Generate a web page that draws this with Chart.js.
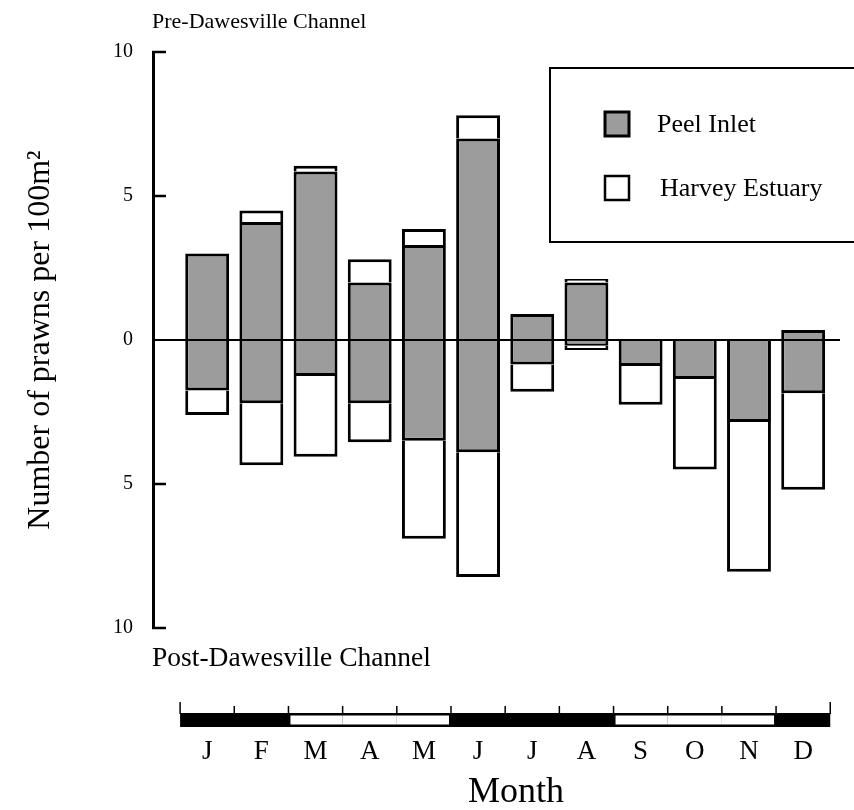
<!DOCTYPE html>
<html><head><meta charset="utf-8">
<script src="https://cdn.jsdelivr.net/npm/chart.js@4.4.1/dist/chart.umd.min.js"></script>
<style>html,body{margin:0;padding:0;background:#fff;} #wrap{width:854px;height:810px;position:relative;}</style>
</head><body><div id="wrap"><canvas id="c" width="854" height="810"></canvas></div>
<script>
// ---- data ----
const months = ['J','F','M','A','M','J','J','A','S','O','N','D'];
const seriesNames = ['Peel Inlet', 'Harvey Estuary'];
const peelPre    = [3.0, 4.1, 5.85, 2.0, 3.3, 7.0, 0.9, 2.0, 0, 0, 0, 0.35];
const harveyPre  = [0, 0.4, 0.2, 0.8, 0.55, 0.8, 0, 0.12, 0, 0, 0, 0];
const peelPost   = [1.75, 2.2, 1.25, 2.2, 3.5, 3.9, 0.85, 0.2, 0.9, 1.35, 2.85, 1.85];
const harveyPost = [0.85, 2.15, 2.8, 1.35, 3.4, 4.33, 0.95, 0.15, 1.35, 3.15, 5.2, 3.35];
const yTicks = [-10, -5, 0, 5, 10];
const seasonDark = [1,1,0,0,0,1,1,1,0,0,0,1];
const preLabel = 'Pre-Dawesville Channel';
const postLabel = 'Post-Dawesville Channel';
const yTitle = 'Number of prawns per 100m\u00B2';
const xTitle = 'Month';

const SERIF = '"Liberation Serif", "Times New Roman", Times, serif';
const GRAY = '#9c9c9c';

const pts = (arr, sign) => arr.map((v, i) => ({x: i, y: sign * v}));

const deco = {
  id: 'deco',
  afterDraw(chart) {
    const ctx = chart.ctx, xs = chart.scales.x, ys = chart.scales.y;
    ctx.save();
    // inward ticks on y axis
    ctx.strokeStyle = '#000'; ctx.lineWidth = 2.5;
    const ax = ys.right;
    yTicks.forEach(v => {
      if (v === 0) return;
      const py = ys.getPixelForValue(v);
      ctx.beginPath(); ctx.moveTo(ax - 1, py); ctx.lineTo(ax + 13, py); ctx.stroke();
    });
    // pre/post labels
    ctx.fillStyle = '#000'; ctx.textAlign = 'left'; ctx.textBaseline = 'alphabetic';
    ctx.font = '22px ' + SERIF; ctx.fillText(preLabel, 152, 28);
    ctx.font = '27.5px ' + SERIF; ctx.fillText(postLabel, 152, 666);
    // legend
    ctx.lineWidth = 2; ctx.strokeStyle = '#000';
    ctx.strokeRect(550, 68, 340, 174);
    ctx.fillStyle = GRAY; ctx.fillRect(605, 112, 24, 24);
    ctx.lineWidth = 3; ctx.strokeRect(605, 112, 24, 24);
    ctx.fillStyle = '#fff'; ctx.fillRect(605, 176, 24, 24);
    ctx.lineWidth = 2.5; ctx.strokeRect(605, 176, 24, 24);
    ctx.fillStyle = '#000'; ctx.font = '26px ' + SERIF; ctx.textBaseline = 'middle';
    ctx.fillText(seriesNames[0], 657, 125);
    ctx.fillText(seriesNames[1], 660, 189);
    // season bar
    const top = 713, h = 14;
    const x0 = xs.getPixelForValue(-0.5), x1 = xs.getPixelForValue(months.length - 0.5);
    ctx.fillStyle = '#000';
    ctx.fillRect(x0, top, x1 - x0, h);
    seasonDark.forEach((d, i) => {
      if (d) return;
      const a = xs.getPixelForValue(i - 0.5), b = xs.getPixelForValue(i + 0.5);
      const l = a + (seasonDark[i - 1] ? 2 : 0);
      const r = b - (seasonDark[i + 1] ? 2 : 0);
      ctx.fillStyle = '#fff';
      ctx.fillRect(l, top + 2.5, r - l, h - 5);
    });
    ctx.lineWidth = 1.5; ctx.strokeStyle = '#000';
    for (let i = 0; i <= months.length; i++) {
      const px = xs.getPixelForValue(i - 0.5);
      const end = (i === 0 || i === months.length);
      ctx.beginPath(); ctx.moveTo(px, top - (end ? 11 : 7)); ctx.lineTo(px, top + 1); ctx.stroke();
    }
    // x title
    ctx.fillStyle = '#000'; ctx.textAlign = 'center'; ctx.textBaseline = 'alphabetic';
    ctx.font = '36px ' + SERIF;
    ctx.fillText(xTitle, xs.getPixelForValue(5.7), 802);
    ctx.restore();
  }
};

const common = {stack: 's', borderColor: '#000', borderWidth: 3, borderSkipped: 'start',
  barPercentage: 0.81, categoryPercentage: 1};

new Chart(document.getElementById('c'), {
  type: 'bar',
  data: {
    datasets: [
      Object.assign({label: seriesNames[0] + ' pre', data: pts(peelPre, 1), backgroundColor: GRAY}, common),
      Object.assign({label: seriesNames[1] + ' pre', data: pts(harveyPre, 1), backgroundColor: '#fff'}, common),
      Object.assign({label: seriesNames[0] + ' post', data: pts(peelPost, -1), backgroundColor: GRAY}, common),
      Object.assign({label: seriesNames[1] + ' post', data: pts(harveyPost, -1), backgroundColor: '#fff'}, common)
    ]
  },
  options: {
    responsive: false, animation: false,
    layout: {padding: {top: 52, right: 14, left: 0, bottom: 0}},
    plugins: {legend: {display: false}, tooltip: {enabled: false}},
    scales: {
      x: {
        type: 'linear', min: -1, max: 11.68, offset: false, stacked: true,
        grid: {display: false}, border: {display: false},
        afterBuildTicks: s => { s.ticks = months.map((m, i) => ({value: i})); },
        ticks: {callback: v => months[v] ?? '', font: {family: SERIF, size: 27}, color: '#000',
                padding: 100, maxRotation: 0, autoSkip: false},
        title: {display: false},
        afterFit: s => { s.height = 182; s.paddingLeft = 0; s.paddingRight = 0; }
      },
      y: {
        min: -10, max: 10, stacked: true, z: 1,
        afterBuildTicks: s => { s.ticks = yTicks.map(v => ({value: v})); },
        ticks: {callback: v => String(Math.abs(v)), font: {family: SERIF, size: 20}, color: '#000', padding: 20},
        grid: {drawTicks: false, lineWidth: 2,
               color: c => (c.tick && c.tick.value === 0) ? '#000' : 'rgba(0,0,0,0)'},
        border: {display: true, color: '#000', width: 3},
        title: {display: true, text: yTitle, font: {family: SERIF, size: 32}, color: '#000',
                padding: {top: 21, bottom: 0}},
        afterFit: s => { s.width = 153; }
      }
    }
  },
  plugins: [deco]
});
</script>
</body></html>
